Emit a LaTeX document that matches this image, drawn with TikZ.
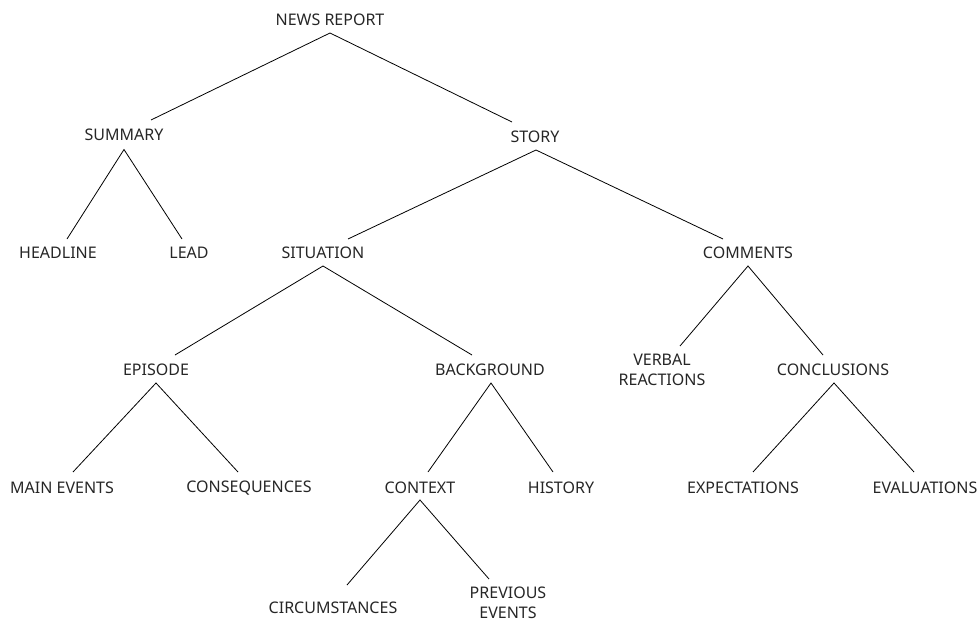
\documentclass[tikz,border=0pt]{standalone}
\usepackage{fontspec}
\setmainfont{Noto Sans}
\usetikzlibrary{calc}
\begin{document}
\begin{tikzpicture}[x=1pt,y=-1pt,
  lbl/.style={inner sep=0pt, anchor=base, font=\fontsize{16}{20}\selectfont, text=black!85},
  edge/.style={draw=black, line width=0.8pt}]
\useasboundingbox (0,0) rectangle (980,621);
% nodes
\node[lbl] (nr) at (330,25.5) {NEWS REPORT};
\node[lbl] (summary) at (124,140.5) {SUMMARY};
\node[lbl] (story) at (535,142) {STORY};
\node[lbl] (headline) at (58,258) {HEADLINE};
\node[lbl] (lead) at (189,258) {LEAD};
\node[lbl] (situation) at (323,258) {SITUATION};
\node[lbl] (comments) at (748,258) {COMMENTS};
\node[lbl] (episode) at (156,375) {EPISODE};
\node[lbl] (background) at (490,375) {BACKGROUND};
\node[lbl, align=center] (verbal) at (662,385.5) {VERBAL\\REACTIONS};
\node[lbl] (conclusions) at (833,375) {CONCLUSIONS};
\node[lbl] (mainev) at (62,493) {MAIN EVENTS};
\node[lbl] (conseq) at (249,492) {CONSEQUENCES};
\node[lbl] (context) at (420,493) {CONTEXT};
\node[lbl] (history) at (561,493) {HISTORY};
\node[lbl] (expect) at (743,493) {EXPECTATIONS};
\node[lbl] (evalu) at (925,493) {EVALUATIONS};
\node[lbl] (circ) at (333,613) {CIRCUMSTANCES};
\node[lbl, align=center] (prev) at (508,618) {PREVIOUS\\EVENTS};
% connectors
\draw[edge] ($(summary.base)+(27,-20.5)$) -- ($(nr.base)+(0,7.5)$) -- ($(story.base)+(-23,-20)$);
\draw[edge] ($(headline.base)+(9,-19)$) -- ($(summary.base)+(0,9)$) -- ($(lead.base)+(-7,-19)$);
\draw[edge] ($(situation.base)+(25,-19)$) -- ($(story.base)+(1,8)$) -- ($(comments.base)+(-25,-19)$);
\draw[edge] ($(episode.base)+(19,-20)$) -- ($(situation.base)+(0,8)$) -- ($(background.base)+(-18,-20)$);
\draw[edge] ($(verbal.base)+(18,-39.5)$) -- ($(comments.base)+(0,8)$) -- ($(conclusions.base)+(-10,-20)$);
\draw[edge] ($(mainev.base)+(11,-21)$) -- ($(episode.base)+(0,8)$) -- ($(conseq.base)+(-11,-20)$);
\draw[edge] ($(context.base)+(8,-21)$) -- ($(background.base)+(1,8)$) -- ($(history.base)+(-8,-21)$);
\draw[edge] ($(circ.base)+(14,-28)$) -- ($(context.base)+(0,7)$) -- ($(prev.base)+(-19,-39)$);
\draw[edge] ($(expect.base)+(10,-21)$) -- ($(conclusions.base)+(1,8)$) -- ($(evalu.base)+(-11,-21)$);
\end{tikzpicture}
\end{document}
